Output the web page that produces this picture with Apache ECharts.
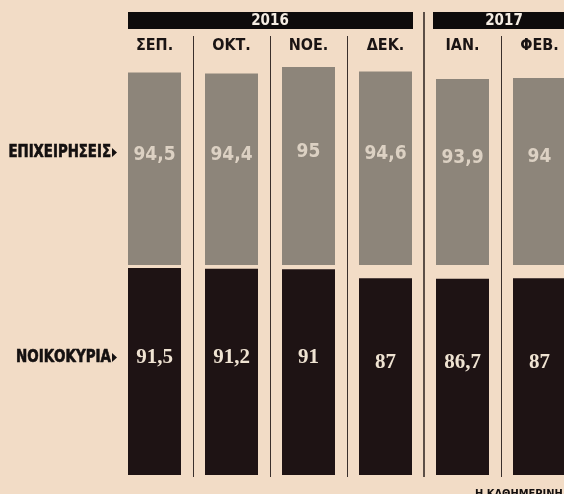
<!DOCTYPE html>
<html>
<head>
<meta charset="utf-8">
<script src="https://cdn.jsdelivr.net/npm/echarts@6/dist/echarts.min.js"></script>
<style>
html, body { margin: 0; padding: 0; background: #f2dcc6; }
#chart { width: 564px; height: 494px; }
</style>
</head>
<body>
<div id="chart"></div>
<script>
let months = ['ΣΕΠ.', 'ΟΚΤ.', 'ΝΟΕ.', 'ΔΕΚ.', 'ΙΑΝ.', 'ΦΕΒ.'];
let years = ['2016', '2017'];
let businesses = [94.5, 94.4, 95, 94.6, 93.9, 94];
let households = [91.5, 91.2, 91, 87, 86.7, 87];
let rowNames = ['ΕΠΙΧΕΙΡΗΣΕΙΣ', 'ΝΟΙΚΟΚΥΡΙΑ'];

// number with greek decimal comma
function fmt(p) {
    return String(p.value).replace('.', ',');
}

let myChart = echarts.init(document.getElementById('chart'));

let hiddenY = {
    type: 'value',
    show: false
};
let condensed = '"DejaVu Sans Condensed", "DejaVu Sans", sans-serif';

let option = {
    backgroundColor: '#f2dcc6',
    animation: false,
    grid: [
        { left: 116, width: 462, top: 67, height: 198, outerBoundsMode: 'none' },
        { left: 116, width: 462, top: 268, height: 207, outerBoundsMode: 'none' },
        { left: 116, width: 462, top: 36, height: 441, outerBoundsMode: 'none' },
        // year separator (line between ΔΕΚ. and ΙΑΝ.)
        { left: 424, width: 154, top: 12, height: 465, outerBoundsMode: 'none' }
    ],
    xAxis: [
        {
            type: 'category', gridIndex: 0, data: months, position: 'top',
            axisLine: { show: false }, axisTick: { show: false },
            axisLabel: {
                margin: 13, color: '#1a1414', fontSize: 16, fontWeight: 'bold',
                fontFamily: condensed
            }
        },
        {
            type: 'category', gridIndex: 1, data: months,
            axisLine: { show: false }, axisTick: { show: false }, axisLabel: { show: false }
        },
        {
            type: 'category', gridIndex: 2, data: months,
            axisLine: { show: false }, axisTick: { show: false }, axisLabel: { show: false },
            splitLine: {
                show: true,
                interval: function (i) { return i === 1 || i === 2 || i === 3 || i === 5; },
                lineStyle: { color: '#3a2f2b', width: 1 }
            }
        },
        {
            type: 'category', gridIndex: 3, data: months.slice(4),
            axisLine: { show: false }, axisTick: { show: false }, axisLabel: { show: false },
            splitLine: {
                show: true,
                interval: function (i) { return i === 0; },
                lineStyle: { color: '#2a201d', width: 1.5 }
            }
        }
    ],
    yAxis: [
        Object.assign({ gridIndex: 0, min: 77, max: 95 }, hiddenY),
        Object.assign({ gridIndex: 1, min: 0, max: 91.5 }, hiddenY),
        Object.assign({ gridIndex: 2, min: 0, max: 1 }, hiddenY),
        Object.assign({ gridIndex: 3, min: 0, max: 1 }, hiddenY)
    ],
    series: [
        {
            name: rowNames[0], type: 'bar', xAxisIndex: 0, yAxisIndex: 0,
            data: businesses, barWidth: 53,
            itemStyle: { color: '#8d857a' },
            label: {
                show: true, position: 'inside', offset: [0, -14], formatter: fmt,
                color: '#dcd1c3', fontSize: 19, fontWeight: 'bold',
                fontFamily: condensed
            }
        },
        {
            name: rowNames[1], type: 'bar', xAxisIndex: 1, yAxisIndex: 1,
            data: households, barWidth: 53,
            itemStyle: { color: '#1e1314' },
            label: {
                show: true, position: 'inside', offset: [0, -14], formatter: fmt,
                color: '#efe3d2', fontSize: 21, fontWeight: 'bold',
                fontFamily: 'Liberation Serif, serif'
            }
        }
    ],
    graphic: [
        { type: 'rect', shape: { x: 128, y: 12, width: 285, height: 17 }, style: { fill: '#0e0b0b' } },
        { type: 'rect', shape: { x: 433, y: 12, width: 140, height: 17 }, style: { fill: '#0e0b0b' } },
        {
            type: 'text', x: 270, y: 21,
            style: {
                text: years[0], fill: '#f4ece2', align: 'center', verticalAlign: 'middle',
                font: 'bold 15px ' + condensed
            }
        },
        {
            type: 'text', x: 504, y: 21,
            style: {
                text: years[1], fill: '#f4ece2', align: 'center', verticalAlign: 'middle',
                font: 'bold 15px ' + condensed
            }
        },
        {
            type: 'text', x: 111, y: 153, scaleX: 0.87,
            style: {
                text: rowNames[0], fill: '#141010', align: 'right', verticalAlign: 'middle',
                font: 'bold 17px ' + condensed, stroke: '#141010', lineWidth: 0.6
            }
        },
        { type: 'polygon', shape: { points: [[112, 148], [117, 152.5], [112, 157]] }, style: { fill: '#141010' } },
        {
            type: 'text', x: 111, y: 358, scaleX: 0.88,
            style: {
                text: rowNames[1], fill: '#141010', align: 'right', verticalAlign: 'middle',
                font: 'bold 17px ' + condensed, stroke: '#141010', lineWidth: 0.6
            }
        },
        { type: 'polygon', shape: { points: [[112, 353], [117, 357.5], [112, 362]] }, style: { fill: '#141010' } },
        {
            type: 'text', x: 475, y: 489,
            style: {
                text: 'Η ΚΑΘΗΜΕΡΙΝΗ', fill: '#141010', align: 'left', verticalAlign: 'top',
                font: 'bold 11px ' + condensed
            }
        }
    ]
};

myChart.setOption(option);
</script>
</body>
</html>
